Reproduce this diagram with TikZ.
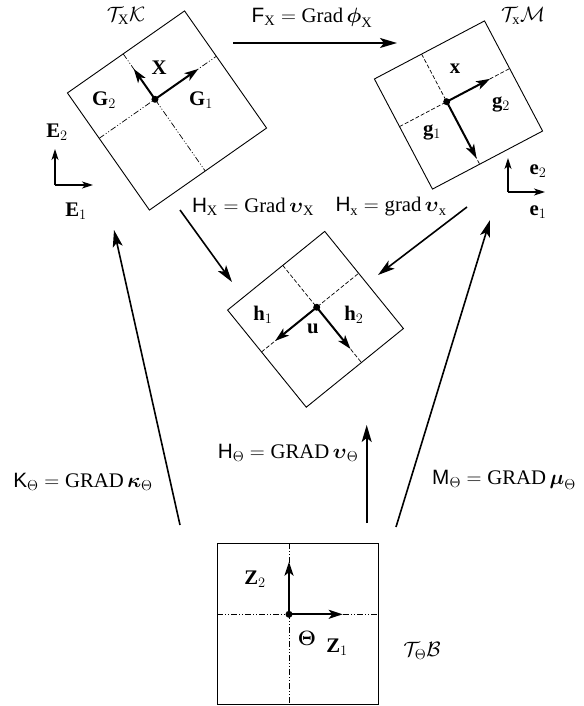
\documentclass[tikz,border=0pt]{standalone}
\usepackage{amsmath}
\usepackage{fontspec}
\setmainfont{Liberation Serif}
\setsansfont{Liberation Sans}
\usetikzlibrary{arrows.meta}
\tikzset{
  txt/.style={font=\fontsize{20.74}{24}\selectfont, inner sep=0pt},
  conn/.style={line width=1.6pt, -{Stealth[length=17pt,width=10pt,inset=4pt]}},
  vec/.style={line width=2pt, -{Stealth[length=14pt,width=9pt,inset=3.5pt]}},
  axis/.style={line width=1.2pt, -{Stealth[length=11pt,width=7pt,inset=3pt]}},
  frame/.style={line width=0.9pt},
  dashdd/.style={line width=0.7pt, dash pattern=on 6pt off 2pt on 1pt off 2pt on 1pt off 2pt},
  dsh/.style={line width=0.7pt, dash pattern=on 4pt off 2pt},
  dotc/.style={circle, fill=black, inner sep=0pt, minimum size=7pt},
}
\begin{document}
\begin{tikzpicture}[x=1pt,y=-1pt]
\useasboundingbox (0,0) rectangle (583,706);

% ---------- T_X K square
\begin{scope}[shift={(167,110.5)},rotate=35]
  \draw[frame] (-71.5,-71.5) rectangle (71.5,71.5);
  \draw[dashdd] (-3.4,-71.5) -- (-3.4,71.5);
  \draw[dashdd] (-71.5,-16.1) -- (71.5,-16.1);
  \coordinate (Kd) at (-3.4,-16.1);
  \coordinate (G1t) at (49.6,-16.1);
  \coordinate (G2t) at (-3.4,-53.1);
\end{scope}
\draw[vec] (Kd) -- (G1t);
\draw[vec] (Kd) -- (G2t);
\node[dotc] (KdD) at (Kd) {};
\node[txt] (Xl) at (159,68) {$\mathbf{X}$};
\node[txt] (G2l) at (104,100) {$\mathbf{G}_2$};
\node[txt] (G1l) at (201,100) {$\mathbf{G}_1$};
\node[txt] (TK) at (126,16) {$\mathcal{T}_{\mathrm{X}}\mathcal{K}$};

% E axes
\coordinate (Eo) at (55,185);
\coordinate (E2t) at (55,149);
\coordinate (E1t) at (93,185);
\draw[axis] (Eo) -- (E2t);
\draw[axis] (Eo) -- (E1t);
\node[txt] (E2l) at (57,132) {$\mathbf{E}_2$};
\node[txt] (E1l) at (76,211) {$\mathbf{E}_1$};

% ---------- T_x M square
\begin{scope}[shift={(458.5,105)},rotate=27.8]
  \draw[frame] (-62.25,-62.25) rectangle (62.25,62.25);
  \draw[dsh] (-8.9,-62.25) -- (-8.9,62.25);
  \draw[dsh] (-62.25,-8.4) -- (62.25,-8.4);
  \coordinate (Md) at (-8.9,-8.4);
  \coordinate (g2t) at (40.1,-8.4);
  \coordinate (g1t) at (-8.9,55.6);
\end{scope}
\draw[vec] (Md) -- (g2t);
\draw[vec] (Md) -- (g1t);
\node[dotc] (MdD) at (Md) {};
\node[txt] (xl) at (455,69) {$\mathbf{x}$};
\node[txt] (g2l) at (501,104) {$\mathbf{g}_2$};
\node[txt] (g1l) at (432,132) {$\mathbf{g}_1$};
\node[txt] (TM) at (523,16) {$\mathcal{T}_{\mathrm{x}}\mathcal{M}$};

% e axes
\coordinate (eo) at (508,192);
\coordinate (e2t) at (508,158);
\coordinate (e1t) at (545,192);
\draw[axis] (eo) -- (e2t);
\draw[axis] (eo) -- (e1t);
\node[txt] (e2l) at (538,171) {$\mathbf{e}_2$};
\node[txt] (e1l) at (538,212) {$\mathbf{e}_1$};

% ---------- middle square
\begin{scope}[shift={(315.5,319.3)},rotate=39]
  \draw[frame] (-62.5,-62.5) rectangle (62.5,62.5);
  \draw[dsh] (8.5,-62.5) -- (8.5,62.5);
  \draw[dsh] (-62.5,-8.6) -- (62.5,-8.6);
  \coordinate (Hd) at (8.5,-8.6);
  \coordinate (h1t) at (-44.9,-8.6);
  \coordinate (h2t) at (8.5,45);
\end{scope}
\draw[vec] (Hd) -- (h1t);
\draw[vec] (Hd) -- (h2t);
\node[dotc] (HdD) at (Hd) {};
\node[txt] (h1l) at (263,315) {$\mathbf{h}_1$};
\node[txt] (h2l) at (354,315) {$\mathbf{h}_2$};
\node[txt] (ul) at (313,329) {$\mathbf{u}$};

% ---------- bottom square
\draw[frame] (217.3,543.3) rectangle (378.3,704.3);
\draw[dashdd] (289,543.3) -- (289,704.3);
\draw[dashdd] (217.3,614.3) -- (378.3,614.3);
\coordinate (Bd) at (289,614.3);
\coordinate (Z2t) at (289,561.7);
\coordinate (Z1t) at (342.7,614.3);
\draw[vec] (Bd) -- (Z2t);
\draw[vec] (Bd) -- (Z1t);
\node[dotc] (BdD) at (Bd) {};
\node[txt] (Z2l) at (255,579) {$\mathbf{Z}_2$};
\node[txt] (Thl) at (307,638) {$\boldsymbol{\Theta}$};
\node[txt] (Z1l) at (337,647) {$\mathbf{Z}_1$};
\node[txt] (TB) at (422,651) {$\mathcal{T}_{\Theta}\mathcal{B}$};

% ---------- connectors
\coordinate (Fs) at (233,43);
\coordinate (Fe) at (397,43);
\draw[conn] (Fs) -- (Fe);
\node[txt] (Fl) at (312,18) {$\mathsf{F}_{\mathrm{X}} = \mathrm{Grad}\,\boldsymbol{\phi}_{\mathrm{X}}$};

\coordinate (HXs) at (180,210);
\coordinate (HXe) at (232,282);
\draw[conn] (HXs) -- (HXe);
\node[txt] (HXl) at (253,207) {$\mathsf{H}_{\mathrm{X}} = \mathrm{Grad}\,\boldsymbol{\upsilon}_{\mathrm{X}}$};

\coordinate (Hxs) at (467,207);
\coordinate (Hxe) at (378,275);
\draw[conn] (Hxs) -- (Hxe);
\node[txt] (Hxl) at (391,207) {$\mathsf{H}_{\mathrm{x}} = \mathrm{grad}\,\boldsymbol{\upsilon}_{\mathrm{x}}$};

\coordinate (KTs) at (180,525);
\coordinate (KTe) at (114,230);
\draw[conn] (KTs) -- (KTe);
\node[txt] (KTl) at (83,482) {$\mathsf{K}_{\Theta} = \mathrm{GRAD}\,\boldsymbol{\kappa}_{\Theta}$};

\coordinate (HTs) at (366.7,523);
\coordinate (HTe) at (366.7,425);
\draw[conn] (HTs) -- (HTe);
\node[txt] (HTl) at (288,453) {$\mathsf{H}_{\Theta} = \mathrm{GRAD}\,\boldsymbol{\upsilon}_{\Theta}$};

\coordinate (MTs) at (396,527);
\coordinate (MTe) at (490,220);
\draw[conn] (MTs) -- (MTe);
\node[txt] (MTl) at (504,480) {$\mathsf{M}_{\Theta} = \mathrm{GRAD}\,\boldsymbol{\mu}_{\Theta}$};
\end{tikzpicture}
\end{document}
